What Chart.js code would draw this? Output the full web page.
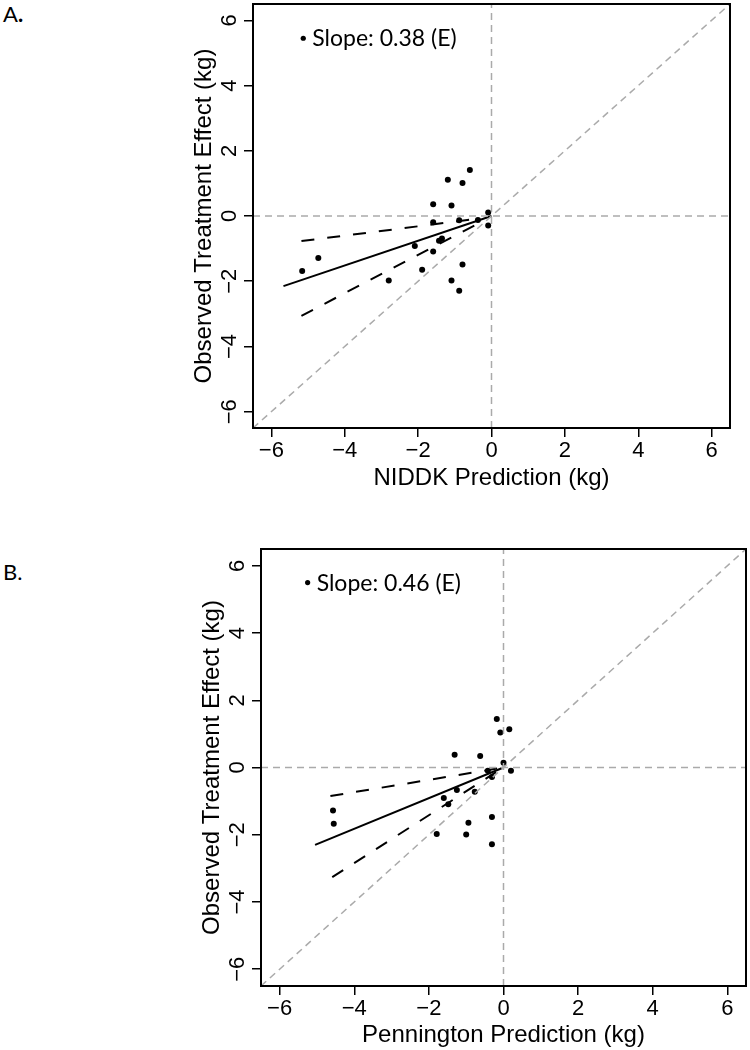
<!DOCTYPE html>
<html>
<head>
<meta charset="utf-8">
<script src="https://cdn.jsdelivr.net/npm/chart.js@4.4.1/dist/chart.umd.min.js"></script>
<style>
  body { margin: 0; background: #fff; width: 750px; height: 1050px; overflow: hidden; position: relative; }
  .panel { position: absolute; left: 0; width: 750px; }
  .tag { position: absolute; left: 3px; font-family: Lato, sans-serif; font-size: 22px; line-height: 22px; color: #000; }
</style>
</head>
<body>
<div class="tag" style="top:3px">A<b>.</b></div>
<div class="tag" style="top:561px">B.</div>
<div class="panel" style="top:0;height:500px"><canvas id="niddk"></canvas></div>
<div class="panel" style="top:530px;height:520px"><canvas id="pennington"></canvas></div>
<script>
// shared axes
const axisTicks = [-6, -4, -2, 0, 2, 4, 6];
const axisRange = [-6.5, 6.5];

// panel A: NIDDK
const niddkPred = [-0.59, -1.19, -0.79, -1.59, -1.09, -0.09, -1.59, -0.88, -0.37, -0.09, -1.35,
                   -1.43, -2.09, -1.59, -4.72, -5.16, -1.89, -0.79, -2.80, -1.09, -0.88];
const niddkObs  = [1.41, 1.11, 1.01, 0.36, 0.32, 0.11, -0.19, -0.13, -0.12, -0.29, -0.69,
                   -0.76, -0.92, -1.09, -1.29, -1.69, -1.65, -1.49, -1.98, -1.98, -2.29];
const niddkFitX = [-5.67, 0];
const niddkFitY = [-2.15, 0];
const niddkUpX = [-5.18, -0.42];
const niddkUpY = [-0.77, -0.09];
const niddkLoX = [-5.18, -0.38];
const niddkLoY = [-3.06, -0.24];

// panel B: Pennington
const penPred = [-0.18, -0.085, 0.155, -1.31, -0.625, 0.0, -0.42, 0.2, -0.31, -1.25,
                 -1.60, -1.48, -0.77, -4.57, -4.55, -0.31, -0.94, -1.79, -1.0, -0.31];
const penObs  = [1.44, 1.04, 1.14, 0.38, 0.34, 0.14, -0.10, -0.10, -0.28, -0.67,
                 -0.91, -1.09, -0.72, -1.28, -1.67, -1.47, -1.64, -1.98, -1.99, -2.28];
const penFitX = [-5.05, 0];
const penFitY = [-2.30, 0];
const penUpX = [-4.64, -0.10];
const penUpY = [-0.85, -0.02];
const penLoX = [-4.59, -0.20];
const penLoY = [-3.26, -0.14];

const pts = (xs, ys) => xs.map((x, i) => ({ x: x, y: ys[i] }));
const fmt = v => (v < 0 ? '\u2212' + Math.abs(v) : String(v));

// box round the plot area and the slope note
const framePlugin = {
  id: 'frame',
  afterDatasetsDraw(chart, args, opts) {
    const { ctx, chartArea: a, scales: { x, y } } = chart;
    ctx.save();
    ctx.strokeStyle = '#000';
    ctx.lineWidth = 2;
    ctx.strokeRect(a.left, a.top, a.right - a.left, a.bottom - a.top);
    const px = x.getPixelForValue(opts.dot[0]);
    const py = y.getPixelForValue(opts.dot[1]);
    ctx.fillStyle = '#000';
    ctx.beginPath();
    ctx.arc(px, py, 2.6, 0, Math.PI * 2);
    ctx.fill();
    ctx.font = '23px Lato';
    ctx.textBaseline = 'alphabetic';
    ctx.fillText(opts.text, px + 9, py + 8);
    ctx.restore();
  }
};

function makePanel(id, p) {
  const grey = { borderColor: '#aaa', borderWidth: 1.5, borderDash: [7, 5], showLine: true, pointRadius: 0 };
  const dash = { borderColor: '#000', borderWidth: 2, borderDash: [13, 13], showLine: true, pointRadius: 0 };
  // no extra room for overhanging tick labels
  const noPad = s => { s.paddingTop = 0; s.paddingBottom = 0; s.paddingLeft = 0; s.paddingRight = 0; };
  new Chart(document.getElementById(id), {
    type: 'scatter',
    data: {
      datasets: [
        Object.assign({ data: axisRange.map(v => ({ x: v, y: 0 })) }, grey),
        Object.assign({ data: axisRange.map(v => ({ x: 0, y: v })) }, grey),
        Object.assign({ data: axisRange.map(v => ({ x: v, y: v })) }, grey),
        Object.assign({ data: pts(p.upX, p.upY) }, dash),
        Object.assign({ data: pts(p.loX, p.loY) }, dash),
        { data: pts(p.fitX, p.fitY), borderColor: '#000', borderWidth: 2, showLine: true, pointRadius: 0 },
        { data: pts(p.xs, p.ys), backgroundColor: '#000', borderWidth: 0, pointRadius: 3, showLine: false }
      ]
    },
    options: {
      responsive: true,
      maintainAspectRatio: false,
      animation: false,
      layout: { padding: { top: p.top, left: 0, right: p.right, bottom: 0 } },
      plugins: {
        legend: { display: false },
        tooltip: { enabled: false },
        frame: { text: p.slope, dot: p.dot }
      },
      scales: {
        x: {
          type: 'linear', min: axisRange[0], max: axisRange[1],
          afterBuildTicks: s => { s.ticks = axisTicks.map(v => ({ value: v })); },
          afterFit: s => { s.height = p.xH; noPad(s); },
          border: { display: false },
          grid: { drawOnChartArea: false, tickLength: 9, color: '#000', lineWidth: 1.5 },
          ticks: { font: { family: 'Liberation Sans', size: 22 }, color: '#000', padding: 1, maxRotation: 0, callback: fmt },
          title: { display: true, text: p.xTitle, color: '#000', font: { family: 'Liberation Sans', size: 24 },
                   padding: { top: 0, bottom: p.xTitlePad } }
        },
        y: {
          type: 'linear', min: axisRange[0], max: axisRange[1],
          afterBuildTicks: s => { s.ticks = axisTicks.map(v => ({ value: v })); },
          afterFit: s => { s.width = p.yW; noPad(s); },
          border: { display: false },
          grid: { drawOnChartArea: false, tickLength: 9, color: '#000', lineWidth: 1.5 },
          ticks: { font: { family: 'Liberation Sans', size: 22 }, color: '#000', padding: 1.5,
                   minRotation: 90, maxRotation: 90, crossAlign: 'center', callback: fmt },
          title: { display: true, text: 'Observed Treatment Effect (kg)', color: '#000',
                   font: { family: 'Liberation Sans', size: 24 }, padding: { top: p.yTitlePad, bottom: 0 } }
        }
      }
    },
    plugins: [framePlugin]
  });
}

makePanel('niddk', {
  xs: niddkPred, ys: niddkObs, fitX: niddkFitX, fitY: niddkFitY,
  upX: niddkUpX, upY: niddkUpY, loX: niddkLoX, loY: niddkLoY,
  slope: 'Slope: 0.38 (E)', dot: [-5.13, 5.45],
  xTitle: 'NIDDK Prediction (kg)',
  top: 1, right: 20, yW: 253, xH: 72, xTitlePad: 7, yTitlePad: 189.6
});

makePanel('pennington', {
  xs: penPred, ys: penObs, fitX: penFitX, fitY: penFitY,
  upX: penUpX, upY: penUpY, loX: penLoX, loY: penLoY,
  slope: 'Slope: 0.46 (E)', dot: [-5.25, 5.5],
  xTitle: 'Pennington Prediction (kg)',
  top: 19, right: 3, yW: 261, xH: 64, xTitlePad: 0, yTitlePad: 197.6
});
</script>
</body>
</html>
